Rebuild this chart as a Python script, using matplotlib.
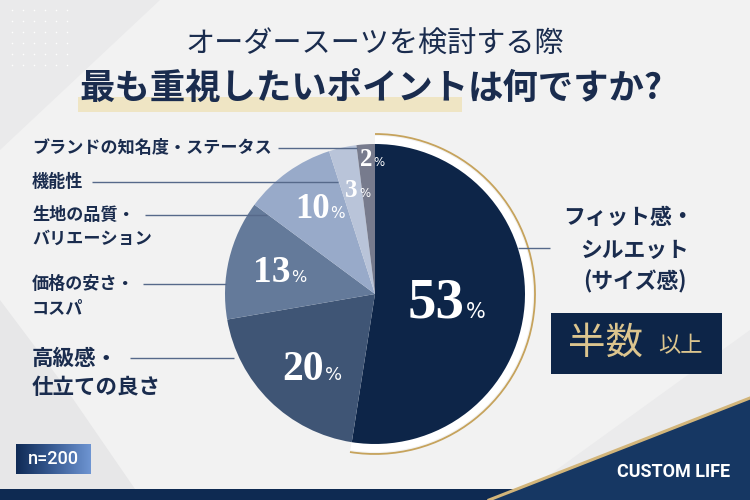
import matplotlib
matplotlib.use('Agg')
import matplotlib.pyplot as plt
from matplotlib.patches import Rectangle, Polygon, Arc, Wedge
from matplotlib.colors import LinearSegmentedColormap
import numpy as np

# ---------------- data ----------------
categories = ['フィット感・\nシルエット\n(サイズ感)', '高級感・\n仕立ての良さ', '価格の安さ・\nコスパ',
              '生地の品質・\nバリエーション', '機能性', 'ブランドの知名度・ステータス']
values = [53, 20, 13, 10, 3, 2]
pct_labels = ['53', '20', '13', '10', '3', '2']
sample_label = 'n=200'
title_line1 = 'オーダースーツを検討する際'
title_line2a = '最も重視したいポイント'
title_line2b = 'は何ですか?'
badge_main = '半数'
badge_sub = '以上'
brand = 'CUSTOM LIFE'

# ---------------- style ----------------
plt.rcParams['font.family'] = ['Noto Sans CJK JP', 'DejaVu Sans']
NAVY = '#0d2548'
TEXT = '#1a2c4e'
GOLD = '#c6a35c'
slice_colors = ['#0d2548', '#3f5575', '#647a9a', '#98aac9', '#b9c4d9', '#777b8d']
W, H = 750, 500


def Y(y):
    return H - y


fig = plt.figure(figsize=(7.5, 5), dpi=100)
fig.patch.set_facecolor('#f2f2f2')
ax = fig.add_axes([0, 0, 1, 1])
ax.set_facecolor('#f2f2f2')

# background decoration
ax.add_patch(Polygon([(0, Y(0)), (160, Y(0)), (0, Y(150))], closed=True, color='#eaeaeb', zorder=0, lw=0))
ax.add_patch(Polygon([(0, Y(489)), (135, Y(489)), (60, Y(380)), (0, Y(300))], closed=True, color='#e7e7e8', zorder=0, lw=0))
ax.add_patch(Polygon([(530, Y(489)), (750, Y(330)), (750, Y(489))], closed=True, color='#ebebec', zorder=0, lw=0))
dx, dy = np.meshgrid(np.arange(12, 75, 11), np.arange(10, 70, 11))
ax.scatter(dx.ravel(), Y(dy.ravel()), s=1.2, color='white', zorder=0.2, lw=0)

# ---------------- pie ----------------
cx, cy, R = 375, Y(294), 150
ax.add_patch(Wedge((cx, cy), 158, -99, 90, color='white', zorder=0.5, lw=0))
wedges, _ = ax.pie(values, colors=slice_colors, startangle=90, counterclock=False,
                   radius=R, center=(cx, cy), wedgeprops=dict(linewidth=0, zorder=1))
ax.add_patch(Arc((cx, cy), 320, 320, theta1=-99, theta2=90, color=GOLD, lw=1.3, zorder=2))

ax.set_xlim(0, W)
ax.set_ylim(0, H)
ax.set_aspect('auto')
ax.axis('off')

# percentage labels
r_frac = [0.41, 0.68, 0.71, 0.72, 0.72, 0.91]
num_size = [41, 30, 27, 25, 18, 18]
pct_size = [15, 13, 11.5, 11, 8.5, 8.5]
fig.canvas.draw()
renderer = fig.canvas.get_renderer()
for w, lab, rf, ns, ps in zip(wedges, pct_labels, r_frac, num_size, pct_size):
    mid = np.deg2rad((w.theta1 + w.theta2) / 2)
    x = cx + rf * R * np.cos(mid)
    y = cy + rf * R * np.sin(mid)
    base = y - 0.33 * ns * 100 / 72
    t = ax.text(x, base, lab, ha='center', va='baseline', color='white',
                fontsize=ns, fontweight='bold', family=['Liberation Serif', 'DejaVu Serif'], zorder=5)
    bb = t.get_window_extent(renderer).transformed(ax.transData.inverted())
    ax.text(bb.x1 + 1, base, '%', ha='left', va='baseline', color='white',
            fontsize=ps, family=['DejaVu Sans'], zorder=5)

# ---------------- leader lines & labels ----------------
LINE = '#56698a'
lines = [(278, 357, 148), (92, 338, 182), (145, 267, 215), (143, 226, 284), (130, 234, 358), (518, 550, 248)]
for x0, x1, yy in lines:
    ax.plot([x0, x1], [Y(yy), Y(yy)], color=LINE, lw=1.0, zorder=4, solid_capstyle='butt')

left_specs = [  # (category index, line y positions, fontsize)
    (5, [148], 12.3),
    (4, [182], 12.3),
    (3, [215, 239], 12.3),
    (2, [284, 308], 12.3),
    (1, [358, 388], 15.5),
]
for idx, ys, fs in left_specs:
    for txt, yy in zip(categories[idx].split('\n'), ys):
        ax.text(32, Y(yy), txt, ha='left', va='center', fontsize=fs, fontweight='bold', color=TEXT, zorder=5)

for txt, yy, xx in zip(categories[0].split('\n'), [217, 250, 282], [628, 635, 635]):
    ax.text(xx, Y(yy), txt, ha='center', va='center', fontsize=15.7, fontweight='bold', color=TEXT, zorder=5)

# badge
ax.add_patch(Rectangle((551, Y(374)), 171, 61, color=NAVY, zorder=3, lw=0))
ax.text(606, Y(343), badge_main, ha='center', va='center', fontsize=27, color='#dcc58e', zorder=5)
ax.text(680, Y(346), badge_sub, ha='center', va='center', fontsize=16, color='#dcc58e', zorder=5)

# ---------------- title ----------------
ax.add_patch(Rectangle((78, Y(112)), 384, 15, color='#efe5c4', zorder=1, lw=0))
ax.text(375, Y(45), title_line1, ha='center', va='center', fontsize=21, color=TEXT, zorder=5)
t2a = ax.text(79, Y(88), title_line2a, ha='left', va='center', fontsize=25.5, fontweight='bold', color=TEXT, zorder=5)
fig.canvas.draw()
bb = t2a.get_window_extent(renderer).transformed(ax.transData.inverted())
ax.text(bb.x1, Y(88), title_line2b, ha='left', va='center', fontsize=25.5, fontweight='bold', color=TEXT, zorder=5)

# ---------------- footer ----------------
ax.add_patch(Rectangle((0, 0), W, Y(489), color='#0e2a52', zorder=3, lw=0))
ax.add_patch(Polygon([(489, 0), (750, Y(398)), (750, 0)], closed=True, color='#163763', zorder=3, lw=0))
ax.plot([489, 750], [0, Y(398)], color='#d2b57a', lw=2.2, zorder=4)
ax.text(674, Y(472), brand, ha='center', va='center', fontsize=13, fontweight='bold', color='white',
        family=['Roboto', 'DejaVu Sans'], zorder=5)

grad = np.linspace(0, 1, 256).reshape(1, -1)
cmap = LinearSegmentedColormap.from_list('g', ['#0f2a55', '#3a5d95', '#6e95d2'])
ax.imshow(grad, extent=(16, 91, Y(474), Y(444)), cmap=cmap, aspect='auto', zorder=3)
ax.text(53.5, Y(459), sample_label, ha='center', va='center', fontsize=13, fontweight='medium',
        color='white', family=['Roboto', 'DejaVu Sans'], zorder=5)
ax.set_xlim(0, W)
ax.set_ylim(0, H)

fig.savefig('out.png', dpi=100, facecolor=fig.get_facecolor())
